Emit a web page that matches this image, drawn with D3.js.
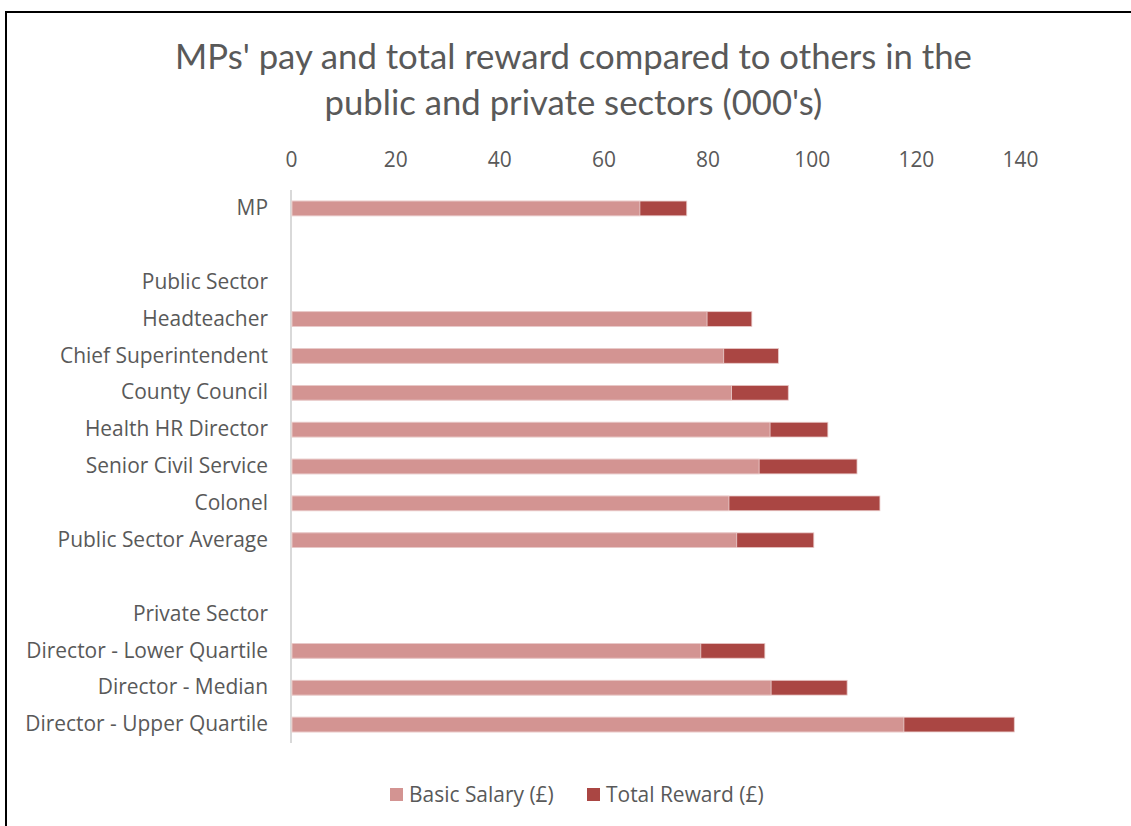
<!DOCTYPE html>
<html><head><meta charset="utf-8">
<script src="https://cdn.jsdelivr.net/npm/d3@7"></script>
<style>body{margin:0;background:#fff;} svg{display:block;font-family:"Open Sans",Lato,sans-serif;}</style>
</head><body>
<svg id="chart" width="1131" height="826"></svg>
<script>
const categories = ["MP", "", "Public Sector", "Headteacher", "Chief Superintendent", "County Council",
  "Health HR Director", "Senior Civil Service", "Colonel", "Public Sector Average", "",
  "Private Sector", "Director - Lower Quartile", "Director - Median", "Director - Upper Quartile"];
const basicSalary = [67.0, null, null, 79.9, 83.1, 84.6, 92.0, 89.9, 84.1, 85.6, null, null, 78.7, 92.2, 117.7];
const totalReward = [76.0, null, null, 88.5, 93.6, 95.5, 103.1, 108.7, 113.1, 100.4, null, null, 91.0, 106.8, 138.9];
const tickValues = [0, 20, 40, 60, 80, 100, 120, 140];
const seriesNames = ["Basic Salary (£)", "Total Reward (£)"];
const colors = ["#D39492", "#AA4643"];
const titleLines = ["MPs' pay and total reward compared to others in the", "public and private sectors (000's)"];

const svg = d3.select("#chart");
const textColor = "#595959";

// frame
svg.append("rect").attr("x", 6).attr("y", 12).attr("width", 1140).attr("height", 840)
  .attr("fill", "none").attr("stroke", "#000").attr("stroke-width", 2);

// helper: font size so that a text reaches a target width
function fitSize(str, target, base, family) {
  const t = svg.append("text").attr("font-size", base).attr("font-family", family).text(str);
  const w = t.node().getComputedTextLength();
  t.remove();
  return base * target / w;
}

// title
const titleSize = fitSize(titleLines[0], 797, 32, "Lato");
const titleY = [69, 115];
titleLines.forEach((t, i) => {
  svg.append("text").attr("x", 573.5).attr("y", titleY[i]).attr("text-anchor", "middle")
    .attr("font-family", "Lato").attr("fill", textColor).attr("font-size", titleSize).text(t);
});

const labelSize = fitSize("Director - Upper Quartile", 243, 19, "Open Sans");

const x = d3.scaleLinear().domain([0, 140]).range([291, 1020]);
const idx = d3.range(categories.length);
const y = d3.scaleBand().domain(idx).range([190, 743]).paddingInner(0.6).paddingOuter(0.3);

// top axis
const xAxis = svg.append("g").attr("transform", "translate(0,167)")
  .call(d3.axisTop(x).tickValues(tickValues).tickSize(0).tickPadding(0));
xAxis.select(".domain").remove();
xAxis.selectAll("text").attr("fill", textColor).attr("font-size", labelSize).attr("font-family", "Open Sans");

// category axis
const yAxis = svg.append("g").attr("transform", "translate(291,0)")
  .call(d3.axisLeft(y).tickFormat(i => categories[i]).tickSize(0).tickPadding(23));
yAxis.select(".domain").attr("stroke", "#d9d9d9").attr("stroke-width", 2)
  .attr("d", "M0,190V743");
yAxis.selectAll("text").attr("fill", textColor).attr("font-size", labelSize).attr("font-family", "Open Sans");

// bars: total reward behind, basic salary on top
const rows = idx.filter(i => totalReward[i] != null);
svg.append("g").selectAll("rect").data(rows).join("rect")
  .attr("x", x(0) + 1).attr("y", i => y(i)).attr("height", y.bandwidth())
  .attr("width", i => x(totalReward[i]) - x(0) - 1)
  .attr("fill", colors[1]).attr("stroke", "#e8c8c7").attr("stroke-width", 0.8);
svg.append("g").selectAll("rect").data(rows).join("rect")
  .attr("x", x(0) + 1).attr("y", i => y(i)).attr("height", y.bandwidth())
  .attr("width", i => x(basicSalary[i]) - x(0) - 1)
  .attr("fill", colors[0]).attr("stroke", "#ecd2d1").attr("stroke-width", 0.8);

// legend
const legendX = [390, 587];
seriesNames.forEach((n, i) => {
  const g = svg.append("g").attr("transform", `translate(${legendX[i]},788)`);
  g.append("rect").attr("width", 13).attr("height", 13).attr("fill", colors[i]);
  g.append("text").attr("x", 19).attr("y", 13.5).attr("fill", textColor)
    .attr("font-family", "Open Sans").attr("font-size", labelSize).text(n);
});
</script>
</body></html>
